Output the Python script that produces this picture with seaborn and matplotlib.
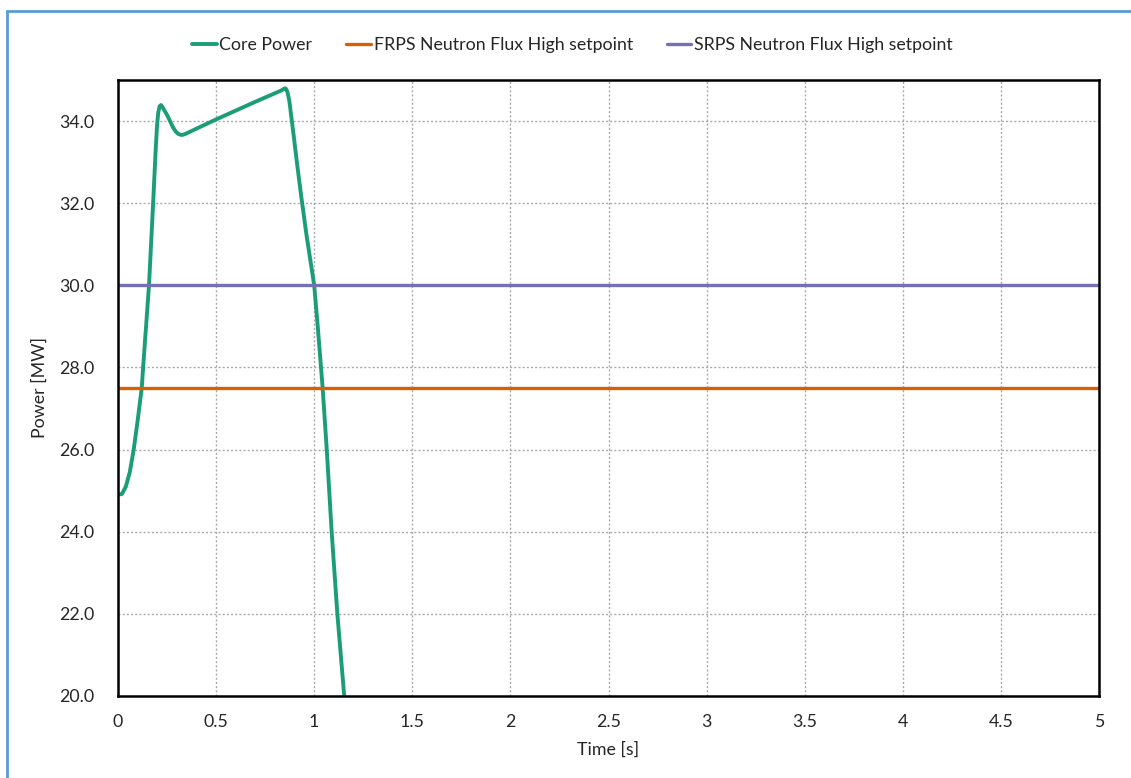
import matplotlib
matplotlib.use("Agg")
import matplotlib.pyplot as plt
from matplotlib.lines import Line2D
from matplotlib.ticker import MultipleLocator, FormatStrFormatter, FuncFormatter
import pandas as pd
import seaborn as sns

# data
time_s = [0.0, 0.02, 0.04, 0.06, 0.08, 0.10, 0.121, 0.128, 0.14, 0.158, 0.179,
          0.192, 0.199, 0.205, 0.212, 0.219, 0.226, 0.235, 0.25, 0.265, 0.28,
          0.295, 0.31, 0.325, 0.34, 0.5, 0.7, 0.83, 0.845, 0.851, 0.857, 0.864,
          0.873, 0.894, 0.913, 0.933, 0.96, 1.0, 1.018, 1.043, 1.064, 1.089,
          1.118, 1.153, 1.17]
core_power = [24.9, 24.92, 25.1, 25.45, 26.0, 26.7, 27.5, 28.0, 28.8, 30.0, 32.0,
              33.3, 33.9, 34.2, 34.36, 34.39, 34.35, 34.27, 34.15, 34.0, 33.85,
              33.74, 33.68, 33.66, 33.68, 34.04, 34.47, 34.74, 34.78, 34.80, 34.78, 34.7,
              34.5, 33.7, 32.95, 32.2, 31.25, 30.0, 29.0, 27.5, 26.0, 24.0,
              22.0, 20.0, 19.0]
setpoint_time = [0.0, 5.0]
frps_setpoint = [27.5, 27.5]
srps_setpoint = [30.0, 30.0]

series_names = ["Core Power", "FRPS Neutron Flux High setpoint",
                "SRPS Neutron Flux High setpoint"]

core = pd.DataFrame({"t": time_s, "p": core_power})
frps = pd.DataFrame({"t": setpoint_time, "p": frps_setpoint})
srps = pd.DataFrame({"t": setpoint_time, "p": srps_setpoint})

sns.set_style("white")
plt.rcParams["font.family"] = ["Lato", "DejaVu Sans"]
plt.rcParams["text.color"] = "#262626"
plt.rcParams["axes.labelcolor"] = "#262626"
plt.rcParams["xtick.color"] = "#262626"
plt.rcParams["ytick.color"] = "#262626"

colors = sns.color_palette("Dark2", 3)

fig = plt.figure(figsize=(11.31, 7.78), dpi=100)
ax = fig.add_axes([118 / 1131, 82 / 778, 981 / 1131, 616 / 778])

sns.lineplot(data=core, x="t", y="p", ax=ax, color=colors[0], linewidth=2.8,
             label=series_names[0], sort=False)
sns.lineplot(data=frps, x="t", y="p", ax=ax, color=colors[1], linewidth=2.4,
             label=series_names[1])
sns.lineplot(data=srps, x="t", y="p", ax=ax, color=colors[2], linewidth=2.4,
             label=series_names[2])

ax.set_xlim(0, 5)
ax.set_ylim(20, 35)
ax.xaxis.set_major_locator(MultipleLocator(0.5))
ax.xaxis.set_minor_locator(MultipleLocator(0.1))
ax.yaxis.set_major_locator(MultipleLocator(2))
ax.yaxis.set_minor_locator(MultipleLocator(0.4))
ax.yaxis.set_major_formatter(FormatStrFormatter("%.1f"))
ax.xaxis.set_major_formatter(FuncFormatter(lambda v, p: f"{v:g}"))

ax.tick_params(axis="both", which="both", direction="in", labelsize=12.8)
ax.tick_params(axis="both", which="major", length=0)
ax.tick_params(axis="both", which="minor", length=5, width=0.8, color="#555555")
ax.tick_params(axis="x", which="major", pad=13)
ax.tick_params(axis="y", which="major", pad=17)

ax.grid(True, which="major", linestyle=(0, (1.5, 1.5)), color="#aaaaaa", linewidth=1)
for s in ax.spines.values():
    s.set_visible(True)
    s.set_color("black")
    s.set_linewidth(1.8)

ax.set_xlabel("Time [s]", fontsize=12.8, labelpad=8)
ax.set_ylabel("Power [MW]", fontsize=12.8, labelpad=8)

ax.get_legend().remove()
handles, labels = ax.get_legend_handles_labels()
fig.legend(handles, labels, loc="center", bbox_to_anchor=(0.506, 0.942), ncol=3,
           frameon=False, fontsize=12.8, handlelength=1.4, handletextpad=0.15,
           columnspacing=1.9)

# blue outer frame (cropped at right and bottom)
fig.add_artist(Line2D([7 / 1131, 7 / 1131], [0, 1 - 11 / 778], transform=fig.transFigure,
                      color="#5b9bd5", linewidth=2))
fig.add_artist(Line2D([7 / 1131, 1], [1 - 11 / 778, 1 - 11 / 778], transform=fig.transFigure,
                      color="#5b9bd5", linewidth=2))

fig.savefig("out.png", dpi=100)
